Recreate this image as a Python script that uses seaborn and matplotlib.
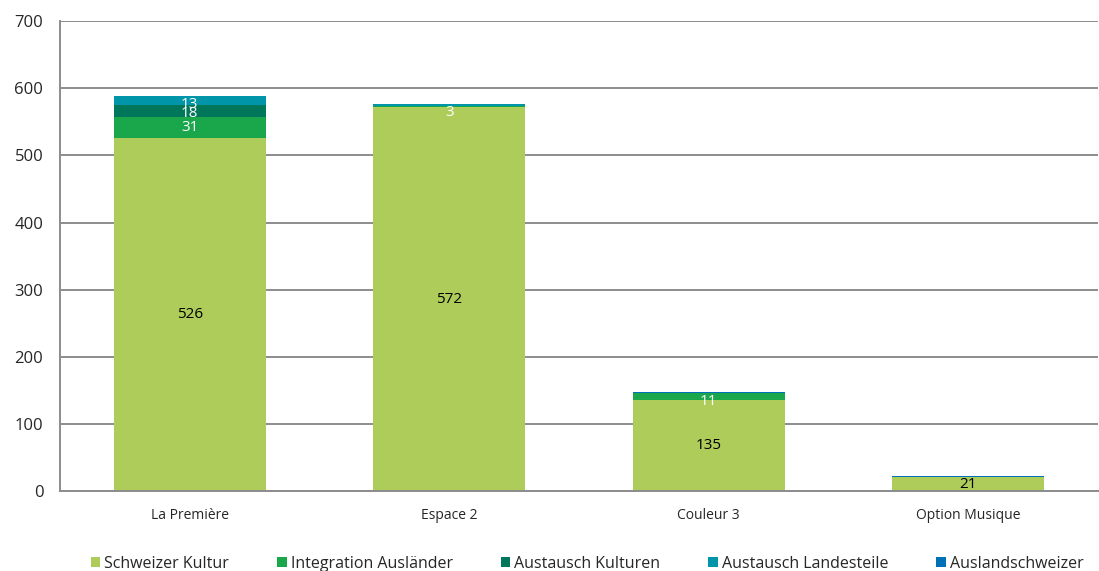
import numpy as np
import pandas as pd
import matplotlib
matplotlib.use("Agg")
import matplotlib.pyplot as plt
import seaborn as sns
from matplotlib.patches import Patch

stations = ["La Première", "Espace 2", "Couleur 3", "Option Musique"]
series = ["Schweizer Kultur", "Integration Ausländer", "Austausch Kulturen",
          "Austausch Landesteile", "Auslandschweizer"]
schweizer = [526, 572, 135, 21]
integration = [31, 1, 11, 0]
kulturen = [18, 0, 0, 0]
landesteile = [13, 3, 0, 0]
ausland = [0, 0, 1, 2]
colors = ["#AECC5A", "#1AA64A", "#00765A", "#0095A8", "#0070B8"]
label_colors = ["black", "white", "white", "white", "white"]
# which values get a label
shown = [[526, 572, 135, 21], [31, None, 11, None], [18, None, None, None],
         [13, 3, None, None], [None, None, None, None]]

values = [schweizer, integration, kulturen, landesteile, ausland]

sns.set_style("white")
plt.rcParams["font.family"] = ["Open Sans", "DejaVu Sans"]

fig = plt.figure(figsize=(10.99, 5.71), dpi=100)
ax = fig.add_axes([0.0546, 0.140, 0.9445, 0.823])

cum = np.cumsum(np.array(values), axis=0)
# draw stacked bars from the top down
for i in range(len(series) - 1, -1, -1):
    df = pd.DataFrame({"station": stations, "value": cum[i]})
    sns.barplot(data=df, x="station", y="value", color=colors[i],
                width=0.585, saturation=1, linewidth=0, ax=ax, order=stations)

for i in range(len(series)):
    for j in range(len(stations)):
        if shown[i][j] is None:
            continue
        # small segments: Excel pushes the label a bit below the top
        y = cum[i][j] - max(values[i][j] / 2, 12) if i > 0 else values[i][j] / 2
        ax.text(j, y, str(shown[i][j]),
                ha="center", va="center", fontsize=11, color=label_colors[i])

ax.set_ylim(0, 700)
ax.set_xlim(-0.5, 3.5)
ax.set_yticks(range(0, 701, 100))
ax.yaxis.grid(True, color="#8c8c8c", linewidth=1.4)
ax.set_axisbelow(True)
ax.set_xlabel("")
ax.set_ylabel("")

for s in ["top", "right"]:
    ax.spines[s].set_visible(False)
for s in ["left", "bottom"]:
    ax.spines[s].set_color("#8c8c8c")
    ax.spines[s].set_linewidth(1.4)

ax.tick_params(axis="y", length=8, color="#8c8c8c", width=1.4, labelsize=12, pad=4)
ax.set_xticks(range(len(stations)))
ax.set_xticklabels(stations)
ax.tick_params(axis="x", which="major", length=0, labelsize=10, pad=12)
ax.set_xticks([-0.5, 0.5, 1.5, 2.5, 3.5], minor=True)
ax.tick_params(axis="x", which="minor", length=6, color="#8c8c8c", width=1.4)

handles = [Patch(facecolor=c, edgecolor="none") for c in colors]
ax.legend(handles, series, loc="center", bbox_to_anchor=(0.508, -0.155),
          ncol=5, frameon=False, fontsize=11.5, handlelength=0.6, handleheight=0.6,
          handletextpad=0.25, columnspacing=3.0, borderpad=0)

fig.savefig("out.png", dpi=100)
